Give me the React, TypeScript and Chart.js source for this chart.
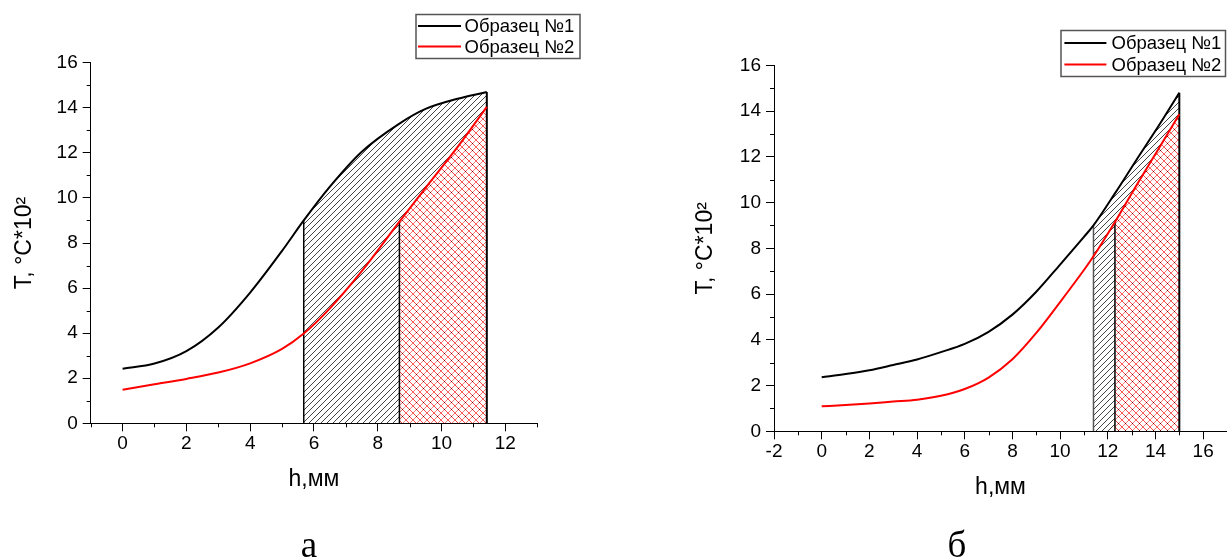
import React, { useEffect, useRef } from "react";
import { Chart, registerables } from "chart.js";

Chart.register(...registerables);

// ---------- data ----------
// Panel "а"
const hA = [0, 1, 2, 3, 4, 5, 5.68, 6.5, 7.5, 8.68, 9.5, 10.5, 11.42];
const sample1A = [2.42, 2.65, 3.2, 4.25, 5.8, 7.65, 9.0, 10.5, 12.05, 13.3, 13.95, 14.4, 14.7];
const sample2A = [1.49, 1.73, 1.97, 2.25, 2.66, 3.3, 3.98, 5.1, 6.75, 8.95, 10.45, 12.25, 14.04];
const boundsA = [5.68, 8.68, 11.42]; // hatch start, cross-hatch start, end
const xTicksA = [0, 2, 4, 6, 8, 10, 12];

// Panel "б"
const hB = [0, 1, 2, 3, 4, 5, 6, 7, 8, 9, 10, 11, 11.4, 12.3, 13.2, 14.1, 15];
const sample1B = [2.36, 2.5, 2.67, 2.9, 3.14, 3.46, 3.82, 4.35, 5.1, 6.1, 7.29, 8.5, 9.0, 10.4, 11.86, 13.3, 14.8];
const sample2B = [1.09, 1.15, 1.22, 1.3, 1.38, 1.55, 1.85, 2.35, 3.15, 4.3, 5.65, 7.05, 7.65, 9.15, 10.75, 12.3, 13.86];
const boundsB = [11.4, 12.3, 15];
const xTicksB = [-2, 0, 2, 4, 6, 8, 10, 12, 14, 16];

const yTicks = [0, 2, 4, 6, 8, 10, 12, 14, 16];
const legendLabels = ["Образец №1", "Образец №2"];
const panelLabels = ["а", "б"];
const xTitle = "h,мм";
const yTitle = "T, °C*10²";

const FONT = '"Liberation Sans", Arial, Helvetica, sans-serif';

// ---------- helpers ----------
const pts = (xs: number[], ys: number[]) => xs.map((x, i) => ({ x, y: ys[i] }));
const sub = (xs: number[], ys: number[], a: number, b: number) =>
  pts(xs, ys).filter((p) => p.x >= a - 1e-9 && p.x <= b + 1e-9);
const valAt = (xs: number[], ys: number[], x: number) => ys[xs.indexOf(x)];

function makeHatch(size: number, color: string) {
  const c = document.createElement("canvas");
  c.width = size;
  c.height = size;
  const g = c.getContext("2d")!;
  g.strokeStyle = color;
  g.lineWidth = 1;
  g.beginPath();
  for (const k of [-size, 0, size]) {
    g.moveTo(k, size);
    g.lineTo(k + size, 0);
  }
  g.stroke();
  return g.createPattern(c, "repeat");
}

function makeCross(size: number) {
  const c = document.createElement("canvas");
  c.width = size;
  c.height = size;
  const g = c.getContext("2d")!;
  g.fillStyle = "#fff";
  g.fillRect(0, 0, size, size);
  g.lineWidth = 1;
  g.strokeStyle = "#f47a7a";
  g.beginPath();
  for (const k of [-size, 0, size]) {
    g.moveTo(k, size);
    g.lineTo(k + size, 0);
  }
  g.stroke();
  g.strokeStyle = "#ff4848";
  g.beginPath();
  for (const k of [-size, 0, size]) {
    g.moveTo(k, 0);
    g.lineTo(k + size, size);
  }
  g.stroke();
  g.fillStyle = "#600000";
  g.fillRect(Math.floor(size / 2), Math.floor(size / 2), 1, 1);
  return g.createPattern(c, "repeat");
}

type Spec = {
  left: number;
  width: number;
  area: { left: number; top: number; right: number; bottom: number };
  xMin: number;
  xMax: number;
  xTicks: number[];
  h: number[];
  s1: number[];
  s2: number[];
  bounds: number[];
  firstBoundColor: string;
  xTitleY: number;
  yTitleX: number;
  legend: { x: number; y: number; w: number; h: number; row0: number; gap: number; lineX0: number; lineX1: number; textX: number };
};

const minorTicks = {
  id: "minorTicks",
  afterDraw(chart: any) {
    const { ctx } = chart;
    const xs = chart.scales.x;
    const ys = chart.scales.y;
    ctx.save();
    ctx.strokeStyle = "#000";
    ctx.lineWidth = 1;
    ctx.beginPath();
    for (let v = Math.ceil(xs.min); v <= xs.max; v++) {
      if (Math.abs(v % 2) === 1) {
        const px = Math.round(xs.getPixelForValue(v)) + 0.5;
        ctx.moveTo(px, xs.top);
        ctx.lineTo(px, xs.top + 4);
      }
    }
    for (let v = Math.ceil(ys.min); v <= ys.max; v++) {
      if (Math.abs(v % 2) === 1) {
        const py = Math.round(ys.getPixelForValue(v)) + 0.5;
        ctx.moveTo(ys.right - 4, py);
        ctx.lineTo(ys.right, py);
      }
    }
    ctx.stroke();
    ctx.restore();
  },
};

const legendPlugin = (box: Spec["legend"]) => ({
  id: "boxLegend",
  afterDraw(chart: any) {
    const { ctx } = chart;
    ctx.save();
    ctx.strokeStyle = "#555";
    ctx.lineWidth = 1.5;
    ctx.strokeRect(box.x, box.y, box.w, box.h);
    ctx.font = `18.5px ${FONT}`;
    ctx.textBaseline = "middle";
    ctx.textAlign = "left";
    chart.data.datasets.slice(0, 2).forEach((ds: any, i: number) => {
      const y = box.y + box.row0 + i * box.gap;
      ctx.strokeStyle = ds.borderColor;
      ctx.lineWidth = 2;
      ctx.beginPath();
      ctx.moveTo(box.lineX0, y);
      ctx.lineTo(box.lineX1, y);
      ctx.stroke();
      ctx.fillStyle = "#000";
      ctx.fillText(ds.label, box.textX, y + 1);
    });
    ctx.restore();
  },
});

function buildConfig(spec: Spec): any {
  const { h, s1, s2, bounds, area } = spec;
  const [b0, b1, b2] = bounds;
  const vline = (x: number, y1: number, color: string, w: number) => ({
    data: [
      { x, y: 0 },
      { x, y: y1 },
    ],
    borderColor: color,
    borderWidth: w,
    fill: false,
    pointRadius: 0,
    tension: 0,
  });
  const curve = (label: string, ys: number[], color: string) => ({
    label,
    data: pts(h, ys),
    borderColor: color,
    borderWidth: 2,
    cubicInterpolationMode: "monotone",
    fill: false,
    pointRadius: 0,
  });
  const region = (data: any[], bg: any) => ({
    data,
    borderWidth: 0,
    borderColor: "rgba(0,0,0,0)",
    backgroundColor: bg,
    fill: "origin",
    cubicInterpolationMode: "monotone",
    pointRadius: 0,
  });
  const datasets = [
    curve(legendLabels[0], s1, "#000000"),
    curve(legendLabels[1], s2, "#ff0000"),
    vline(b0, valAt(h, s1, b0), spec.firstBoundColor, 1.5),
    vline(b1, valAt(h, s2, b1), "#000", 1.5),
    vline(b2, valAt(h, s1, b2), "#000", 2),
    region(sub(h, s2, b1, b2), makeCross(7)),
    region(sub(h, s1, b0, b2), makeHatch(6, "#444")),
  ];

  const axisCommon = {
    type: "linear",
    border: { display: true, color: "#000", width: 1 },
    grid: { display: true, drawOnChartArea: false, drawTicks: true, tickLength: 8, color: "#000", lineWidth: 1 },
  };

  return {
    type: "line",
    data: { datasets },
    options: {
      responsive: false,
      animation: false,
      devicePixelRatio: 1,
      layout: { padding: { left: 0, top: area.top, right: spec.width - area.right, bottom: 0 } },
      plugins: { legend: { display: false }, tooltip: { enabled: false } },
      elements: { point: { radius: 0 } },
      scales: {
        x: {
          ...axisCommon,
          min: spec.xMin,
          max: spec.xMax,
          afterBuildTicks: (s: any) => {
            s.ticks = spec.xTicks.map((v) => ({ value: v }));
          },
          afterFit: (s: any) => {
            s.height = 560 - area.bottom;
          },
          ticks: { color: "#000", font: { family: FONT, size: 19 }, padding: 1, maxRotation: 0, autoSkip: false },
          title: {
            display: true,
            text: xTitle,
            color: "#000",
            font: { family: FONT, size: 23 },
            padding: { top: 0, bottom: 560 - spec.xTitleY - 13.8 },
          },
        },
        y: {
          ...axisCommon,
          min: 0,
          max: 16,
          afterBuildTicks: (s: any) => {
            s.ticks = yTicks.map((v) => ({ value: v }));
          },
          afterFit: (s: any) => {
            s.width = area.left;
          },
          ticks: { color: "#000", font: { family: FONT, size: 19 }, padding: 5, autoSkip: false },
          title: {
            display: true,
            text: yTitle,
            color: "#000",
            font: { family: FONT, size: 23 },
            padding: { top: spec.yTitleX - 13.8, bottom: 0 },
          },
        },
      },
    },
    plugins: [minorTicks, legendPlugin(spec.legend)],
  };
}

const specA: Spec = {
  left: 0,
  width: 613,
  area: { left: 90.7, top: 62.7, right: 537.2, bottom: 423.3 },
  xMin: -1,
  xMax: 13,
  xTicks: xTicksA,
  h: hA,
  s1: sample1A,
  s2: sample2A,
  bounds: boundsA,
  firstBoundColor: "#000",
  xTitleY: 480,
  yTitleX: 25,
  legend: { x: 416, y: 14.5, w: 164, h: 44, row0: 11.5, gap: 20.5, lineX0: 418, lineX1: 461, textX: 464.5 },
};

const specB: Spec = {
  left: 681,
  width: 546,
  area: { left: 93, top: 65.3, right: 546, bottom: 431.3 },
  xMin: -2,
  xMax: 17,
  xTicks: xTicksB,
  h: hB,
  s1: sample1B,
  s2: sample2B,
  bounds: boundsB,
  firstBoundColor: "#555",
  xTitleY: 488,
  yTitleX: 25,
  legend: { x: 380, y: 30.5, w: 164.5, h: 46, row0: 12.5, gap: 21.5, lineX0: 383.4, lineX1: 425.4, textX: 430.5 },
};

function Panel({ spec }: { spec: Spec }) {
  const ref = useRef<HTMLCanvasElement>(null);
  useEffect(() => {
    const chart = new Chart(ref.current as HTMLCanvasElement, buildConfig(spec));
    return () => chart.destroy();
  }, [spec]);
  return (
    <canvas
      ref={ref}
      width={spec.width}
      height={560}
      style={{ position: "absolute", left: spec.left, top: 0, width: spec.width, height: 560 }}
    />
  );
}

export default function App() {
  const labelStyle = (cx: number): React.CSSProperties => ({
    position: "absolute",
    left: cx - 40,
    width: 80,
    top: 526,
    textAlign: "center",
    fontFamily: '"Liberation Serif", "Times New Roman", serif',
    fontSize: 37,
    lineHeight: "37px",
    color: "#000",
  });
  return (
    <div style={{ position: "absolute", left: 0, top: 0, width: 1227, height: 560, background: "#fff", overflow: "hidden" }}>
      <Panel spec={specA} />
      <Panel spec={specB} />
      <div style={labelStyle(309)}>{panelLabels[0]}</div>
      <div style={labelStyle(957)}>{panelLabels[1]}</div>
    </div>
  );
}
